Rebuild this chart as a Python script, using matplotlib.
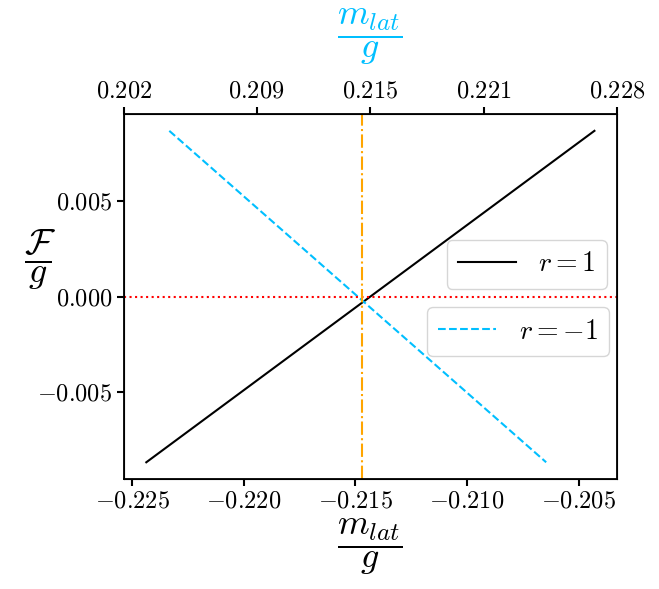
import numpy as np
import matplotlib
matplotlib.use("Agg")
import matplotlib.pyplot as plt

plt.rcParams['mathtext.fontset'] = 'cm'
plt.rcParams['font.family'] = 'serif'
plt.rcParams['font.serif'] = ['cmr10']
plt.rcParams['axes.formatter.use_mathtext'] = True
plt.rcParams['axes.unicode_minus'] = True

# data
x_r1 = [-0.22436, -0.2043]
F_r1 = [-0.0087, 0.0087]
x_rm1 = [-0.22333, -0.20646]
F_rm1 = [0.0087, -0.0087]
x_crit = -0.2147
top_lim = [0.202, 0.228]
top_ticks = [0.202, 0.209, 0.215, 0.221, 0.228]
bottom_ticks = [-0.225, -0.220, -0.215, -0.210, -0.205]
y_ticks = [-0.005, 0.0, 0.005]

cyan = '#00BFFF'

fig, ax = plt.subplots(figsize=(6.59, 5.89), dpi=100)
fig.subplots_adjust(left=0.188, right=0.936, top=0.806, bottom=0.187)

l1, = ax.plot(x_r1, F_r1, color='black', lw=1.5, label=r'$r = 1$')
l2, = ax.plot(x_rm1, F_rm1, color=cyan, lw=1.5, ls='--', label=r'$r = -1$')
ax.axhline(0, color='red', ls=':', lw=1.5)
ax.axvline(x_crit, color='orange', ls='-.', lw=1.5)

ax.set_xticks(bottom_ticks)
ax.set_xticklabels([r'$%.3f$' % v for v in bottom_ticks])
ax.set_yticks(y_ticks)
ax.set_yticklabels([r'$%.3f$' % v for v in y_ticks])
ax.tick_params(labelsize=17.5, width=1.5, length=5)
for s in ax.spines.values():
    s.set_linewidth(1.3)

ax.set_xlabel(r'$\dfrac{m_{lat}}{g}$', fontsize=26, labelpad=3)
ax.set_ylabel(r'$\dfrac{\mathcal{F}}{g}$', fontsize=26, rotation=0)
ax.yaxis.set_label_coords(-0.17, 0.6)
ax.yaxis.label.set_va('center')

ax2 = ax.twiny()
ax2.set_xlim(top_lim)
ax2.set_xticks(top_ticks)
ax2.set_xticklabels([r'$%.3f$' % v for v in top_ticks])
ax2.tick_params(labelsize=17.5, width=1.5, length=5)
ax2.set_xlabel(r'$\dfrac{m_{lat}}{g}$', fontsize=26, color=cyan)
ax2.xaxis.set_label_coords(0.5, 1.13)
ax2.xaxis.label.set_va('bottom')

leg1 = ax.legend(handles=[l1], loc='upper right', bbox_to_anchor=(0.98, 0.655),
                 borderaxespad=0, fontsize=20, handlelength=2.1)
ax.add_artist(leg1)
ax.legend(handles=[l2], loc='upper right', bbox_to_anchor=(0.984, 0.471),
          borderaxespad=0, fontsize=20, handlelength=2.1)

fig.savefig('out.png', dpi=100)
